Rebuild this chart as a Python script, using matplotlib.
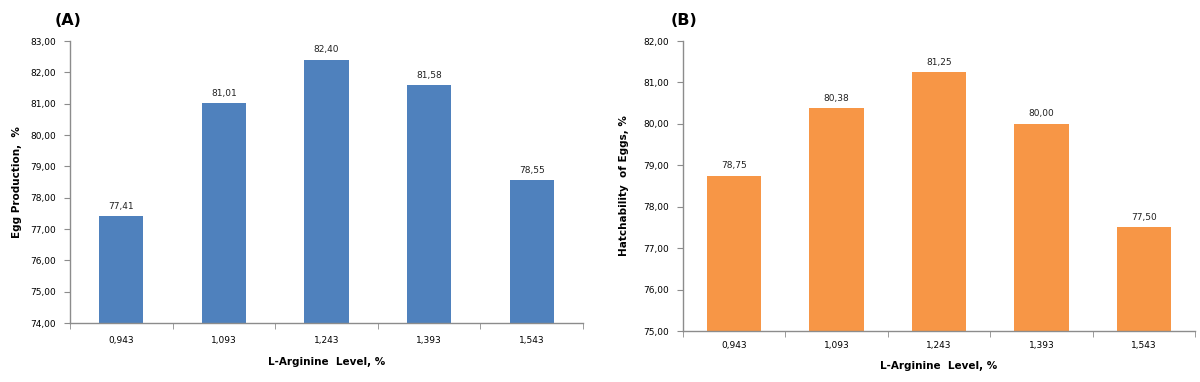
import numpy as np
import matplotlib
matplotlib.use('Agg')
import matplotlib.pyplot as plt

levels = ['0,943', '1,093', '1,243', '1,393', '1,543']
egg_production = [77.41, 81.01, 82.40, 81.58, 78.55]
hatchability = [78.75, 80.38, 81.25, 80.00, 77.50]

AXIS_GREY = '#8c8c8c'


def comma(v, nd=2):
    return f'{v:.{nd}f}'.replace('.', ',')


def draw_panel(ax, values, color, ylim, ylabel, title, bar_w, title_xy):
    x = np.arange(len(values))
    ax.bar(x, np.array(values) - ylim[0], bottom=ylim[0], width=bar_w, color=color)
    for xi, v in zip(x, values):
        ax.annotate(comma(v), xy=(xi, v), xytext=(0, 4), textcoords='offset points',
                    ha='center', va='bottom', fontsize=6.5, color='#222222')
    ax.set_xlim(-0.5, len(values) - 0.5)
    ax.set_ylim(*ylim)
    yt = np.arange(ylim[0], ylim[1] + 0.5, 1.0)
    ax.set_yticks(yt)
    ax.set_yticklabels([comma(t) for t in yt], fontsize=6.5)
    # category labels without ticks, tick marks at category boundaries
    ax.set_xticks(x)
    ax.set_xticklabels(levels, fontsize=6.5)
    ax.tick_params(axis='x', length=0, pad=9)
    ax.set_xticks(np.arange(-0.5, len(values)), minor=True)
    ax.tick_params(axis='x', which='minor', length=4, color=AXIS_GREY, direction='out')
    ax.tick_params(axis='y', length=4, color=AXIS_GREY, direction='out', pad=6)
    for s in ['top', 'right']:
        ax.spines[s].set_visible(False)
    for s in ['left', 'bottom']:
        ax.spines[s].set_color(AXIS_GREY)
        ax.spines[s].set_linewidth(1.0)
    ax.set_ylabel(ylabel, fontsize=7.5, fontweight='bold')
    ax.set_xlabel('L-Arginine  Level, %', fontsize=7.5, fontweight='bold')
    ax.text(title_xy[0], title_xy[1], title, transform=ax.transAxes, fontsize=11.5,
            fontweight='bold', ha='left', va='center')


fig = plt.figure(figsize=(12, 3.82), dpi=100)

ax1 = fig.add_axes([70 / 1200, 59 / 382, 513 / 1200, 282 / 382])
draw_panel(ax1, egg_production, '#4F81BD', (74, 83), 'Egg Production,  %', '(A)', 0.43,
           (-0.029, 1.074))
ax1.xaxis.labelpad = 9
ax1.yaxis.labelpad = 6

ax2 = fig.add_axes([683 / 1200, 51 / 382, 512 / 1200, 290 / 382])
draw_panel(ax2, hatchability, '#F79646', (75, 82), 'Hatchability  of Eggs, %', '(B)', 0.53,
           (-0.025, 1.072))
ax2.xaxis.labelpad = 8
ax2.yaxis.labelpad = 10
ax2.tick_params(axis='x', pad=7)

fig.savefig('out.png', dpi=100)
